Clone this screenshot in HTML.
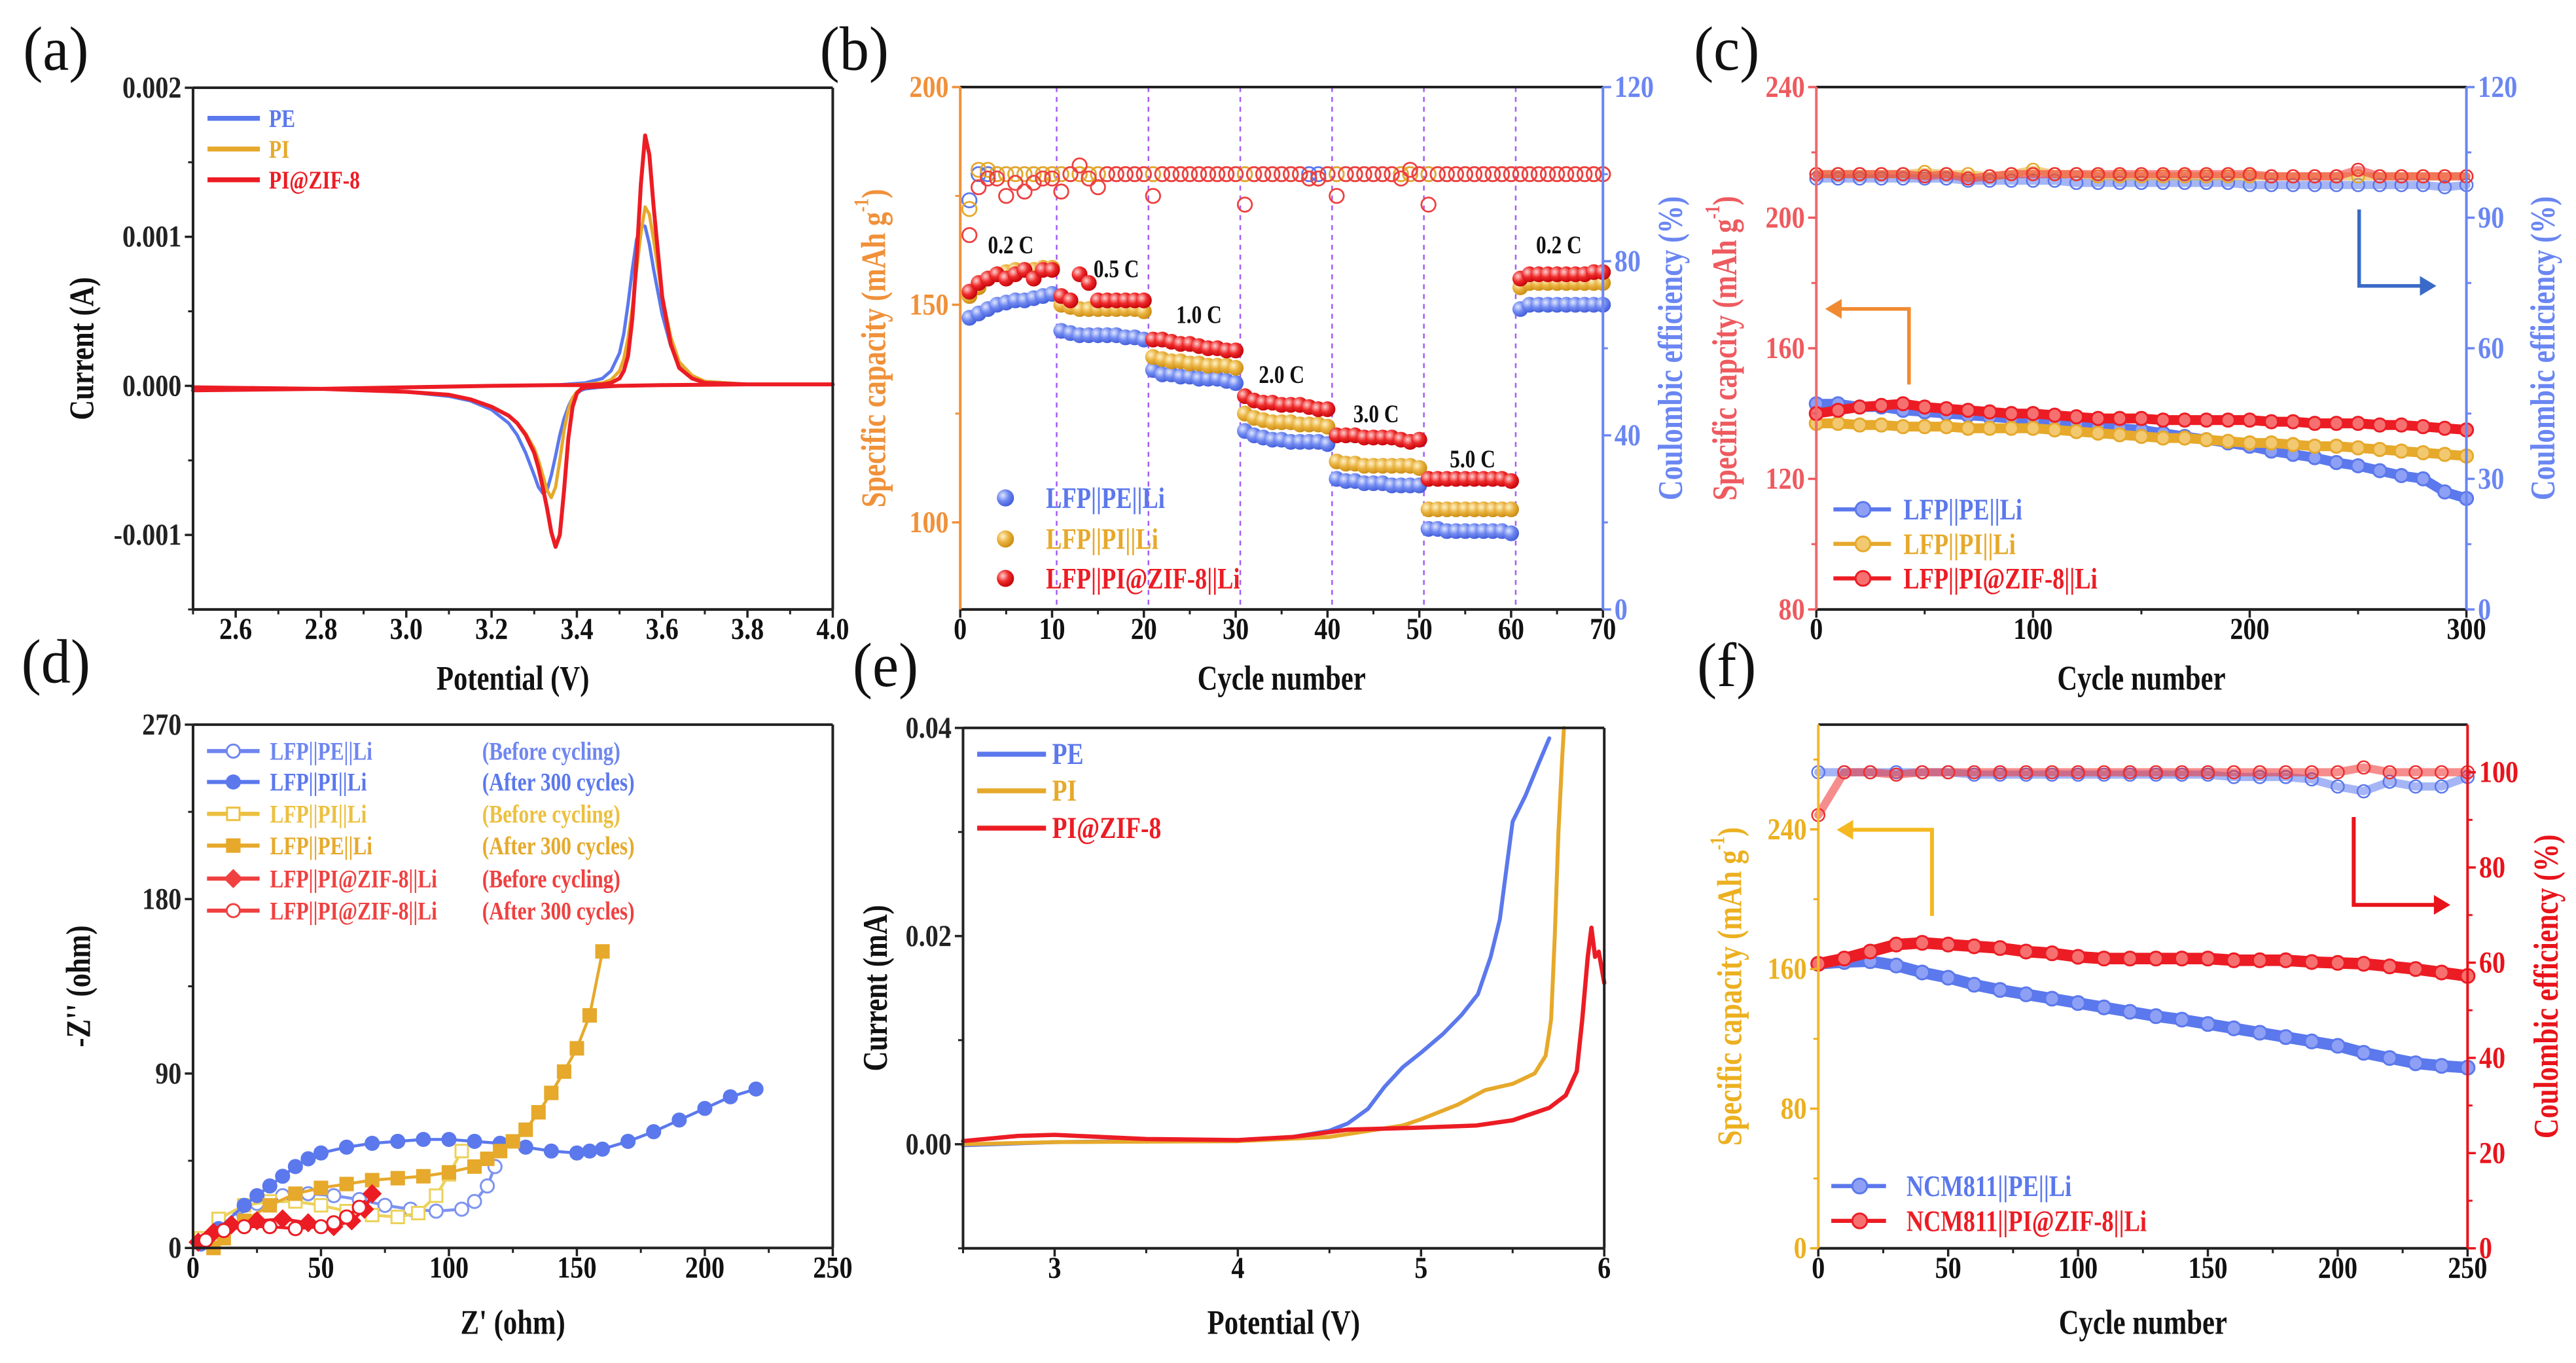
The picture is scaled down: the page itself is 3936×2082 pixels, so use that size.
<!DOCTYPE html>
<html><head><meta charset="utf-8">
<style>
html,body{margin:0;padding:0;background:#fff;}
svg{display:block;}
</style></head>
<body>
<svg id="fig" xmlns="http://www.w3.org/2000/svg" width="3936" height="2082" viewBox="0 0 1568 829.5" preserveAspectRatio="none">
<defs>
<radialGradient id="gBlue" cx="0.35" cy="0.35" r="0.7"><stop offset="0" stop-color="#dfe6ff"/><stop offset="0.5" stop-color="#6f88f0"/><stop offset="1" stop-color="#3f5ad8"/></radialGradient>
<radialGradient id="gYel" cx="0.35" cy="0.35" r="0.7"><stop offset="0" stop-color="#fff2c8"/><stop offset="0.5" stop-color="#e9b23e"/><stop offset="1" stop-color="#c98a10"/></radialGradient>
<radialGradient id="gRed" cx="0.35" cy="0.35" r="0.7"><stop offset="0" stop-color="#ffd0d0"/><stop offset="0.5" stop-color="#ee2a2a"/><stop offset="1" stop-color="#c00008"/></radialGradient>
</defs>
</svg>
<script>
// ---------- Panel (a) CV data (current in units of 0.001 A) ----------
const cvPotential = [2.5,2.8,3.0,3.2,3.35,3.42,3.46,3.48,3.5,3.51,3.52,3.53,3.54,3.55,3.56,3.57,3.58,3.6,3.62,3.64,3.67,3.7,3.8,4.0,
 3.8,3.6,3.5,3.45,3.42,3.41,3.4,3.39,3.38,3.37,3.36,3.35,3.34,3.33,3.32,3.31,3.3,3.28,3.26,3.24,3.2,3.15,3.1,3.0,2.8,2.5];
const cvPE = [-0.03,-0.02,-0.01,0,0.005,0.02,0.05,0.1,0.22,0.35,0.55,0.78,0.98,1.08,1.07,0.95,0.78,0.48,0.27,0.14,0.06,0.03,0.01,0.01,
 0.01,0.005,0,-0.01,-0.02,-0.03,-0.05,-0.08,-0.14,-0.22,-0.33,-0.47,-0.6,-0.7,-0.72,-0.68,-0.6,-0.45,-0.33,-0.25,-0.16,-0.1,-0.07,-0.04,-0.02,-0.01];
const cvPI = [-0.03,-0.02,-0.01,0,0.005,0.01,0.02,0.04,0.1,0.18,0.32,0.52,0.78,1.02,1.2,1.15,0.98,0.6,0.33,0.16,0.07,0.03,0.01,0.01,
 0.01,0.005,0,-0.005,-0.01,-0.02,-0.04,-0.08,-0.16,-0.3,-0.5,-0.68,-0.75,-0.7,-0.6,-0.5,-0.42,-0.32,-0.25,-0.2,-0.14,-0.09,-0.06,-0.04,-0.02,-0.01];
const cvZIF = [-0.03,-0.02,-0.01,0,0.005,0.005,0.01,0.02,0.05,0.1,0.2,0.45,0.85,1.35,1.68,1.55,1.2,0.6,0.28,0.12,0.05,0.02,0.01,0.01,
 0.01,0.005,0,-0.005,-0.01,-0.02,-0.05,-0.14,-0.35,-0.7,-1.0,-1.08,-0.98,-0.82,-0.68,-0.55,-0.45,-0.33,-0.25,-0.2,-0.14,-0.09,-0.06,-0.04,-0.02,-0.01];
const aXTicks = [2.6,2.8,3.0,3.2,3.4,3.6,3.8,4.0];
const aYTicks = [2,1,0,-1];
const aYLabels = ['0.002','0.001','0.000','-0.001'];

// ---------- Panel (b) rate capability ----------
const bCapPE = [147,148,149,150,150.5,151,151,151.5,152,152.5, 144,143.5,143,143,143,143,143,142.5,142.5,142,
 135,134,134,133.5,133.5,133,133,133,132.5,132, 121,120,119.5,119,119,118.5,118.5,118.5,118.5,118,
 110,109.5,109.5,109,109,109,108.5,108.5,108.5,108.5, 98.5,98.5,98,98,98,98,98,98,98,97.5,
 149,150,150,150,150,150,150,150,150,150];
const bCapPI = [152,154,156,157,157.5,158,158,158,158.5,158.5, 150,149.5,149,149,149,149,149,149,149,148.5,
 138,137.5,137,137,136.5,136.5,136,136,136,135.5, 125,124,123.5,123,123,123,122.5,122.5,122.5,122,
 114,113.5,113.5,113,113,113,113,113,113,112.5, 103,103,103,103,103,103,103,103,103,103,
 154,155,155,155,155,155,155,155,155,155];
const bCapZIF = [153,155,156,157,156,157,158,156,158,158, 152,151,157,155,151,151,151,151,151,151,
 142,142,141.5,141,141,140.5,140,140,139.5,139.5, 129,128,127.5,127.5,127,127,127,126.5,126,126,
 120,120,120,119.5,119.5,119.5,119.5,119,118.5,119, 110,110,110,110,110,110,110,110,110,109.5,
 156,157,157,157,157,157,157,157,157.5,157.5];
const bCEPE = [94,100,100,100,100,100,100,100,100,100, 100,100,100,100,100,100,100,100,100,100,
 100,100,100,100,100,100,100,100,100,100, 100,100,100,100,100,100,100,100,100,100,
 100,100,100,100,100,100,100,100,100,100, 100,100,100,100,100,100,100,100,100,100,
 100,100,100,100,100,100,100,100,100,100];
const bCEPI = [92,101,101,100,100,100,100,100,100,100, 100,100,100,100,100,100,100,100,100,100,
 100,100,100,100,100,100,100,100,100,100, 100,100,100,100,100,100,100,99,99,100,
 100,100,100,100,100,100,100,100,100,100, 100,100,100,100,100,100,100,100,100,100,
 100,100,100,100,100,100,100,100,100,100];
const bCEZIF = [86,97,99,99,95,98,96,98,99,99, 96,100,102,99,97,100,100,100,100,100,
 95,100,100,100,100,100,100,100,100,100, 93,100,100,100,100,100,100,99,99,100,
 95,100,100,100,100,100,100,99,101,100, 93,100,100,100,100,100,100,100,100,100,
 100,100,100,100,100,100,100,100,100,100];
const bRateLabels = ['0.2 C','0.5 C','1.0 C','2.0 C','3.0 C','5.0 C','0.2 C'];
const bRateCycle = [5.5,17,26,35,45.3,55.8,65.2];
const bRateCap = [163.8,158.3,147.8,134,125,114.6,163.8];
const bSteps = [10.5,20.5,30.5,40.5,50.5,60.5];

// ---------- Panel (c) long cycling LFP ----------
const cCycles = [0,10,20,30,40,50,60,70,80,90,100,110,120,130,140,150,160,170,180,190,200,210,220,230,240,250,260,270,280,290,300];
const cCapZIF = [140,141,142,142.5,143,142,141.5,141,140.5,140,140,139.5,139,138.5,138.5,138.5,138,138,138,138,138,137.5,137.5,137,137,137,136.5,136.5,136,135.5,135];
const cCapPI = [137,137,136.5,136.5,136,136,136,135.5,135.5,135.5,135.5,135,134.5,134,133.5,133,132.5,132.5,132,131.5,131,131,130.5,130,130,129.5,129,128.5,128,127.5,127];
const cCapPE = [143,143,142,142,141,140.5,140,139.5,139,138.5,138,137.5,137,136,135.5,135,134,133,132,131,130,128.5,127.5,126.5,125,124,122.5,121,120,116,114];
const cCEPE = [99,99,99,99,99,99,99,98.5,98.5,98.5,98.5,98.5,98,98,98,98,98,98,98,98,97.5,97.5,97.5,97.5,97.5,97.5,97.5,97.5,97.5,97,97.5];
const cCEPI = [100,100,100,100,100,100.5,100,100,99.5,100,101,100,100,99.5,99.5,99.5,99.5,99.5,99.5,99.5,99.5,99.5,99.5,99.5,99.5,99.5,99.5,99.5,99.5,99.5,99.5];
const cCEZIF = [100,100,100,100,100,99.5,100,99,99.5,100,100,100,100,100,100,100,100,100,100,100,100,99.5,99.5,99.5,99.5,101,99.5,99.5,99.5,99.5,99.5];

// ---------- Panel (d) EIS ----------
const dPEBeforeX = [5,15,25,35,45,55,65,75,85,95,105,110,115,118];
const dPEBeforeY = [3,15,23,27,28,27,25,22,20,19,20,24,32,42];
const dPIAfterX = [3,10,20,25,30,35,40,45,50,60,70,80,90,100,110,120,130,140,150,155,160,170,180,190,200,210,220];
const dPIAfterY = [2,10,22,27,32,37,42,46,49,52,54,55,56,56,55,54,52,50,49,50,51,55,60,66,72,78,82];
const dPIBeforeX = [3,10,20,30,40,50,60,70,80,88,95,100,105];
const dPIBeforeY = [5,15,22,24,24,22,19,17,16,18,27,38,50];
const dPEAfterX = [8,12,20,30,40,50,60,70,80,90,100,110,115,120,125,130,135,140,145,150,155,160];
const dPEAfterY = [0,5,14,22,28,31,33,35,36,37,39,42,46,50,55,61,70,80,91,103,120,153];
const dZIFBeforeX = [2,8,15,25,35,45,55,62,67,70];
const dZIFBeforeY = [3,8,12,14,15,13,11,14,20,28];
const dZIFAfterX = [5,12,20,30,40,50,55,60,65];
const dZIFAfterY = [4,9,11,11,10,11,13,16,21];

// ---------- Panel (e) LSV ----------
const ePEV = [2.5,3,3.5,4,4.3,4.5,4.6,4.71,4.8,4.9,5.0,5.12,5.22,5.31,5.38,5.43,5.47,5.5,5.57,5.64,5.7];
const ePEI = [-0.0001,0.0002,0.0003,0.0003,0.0007,0.0013,0.002,0.0034,0.0055,0.0074,0.0088,0.0106,0.0124,0.0144,0.018,0.0216,0.027,0.031,0.0335,0.0365,0.039];
const ePIV = [2.5,3,4,4.5,4.9,5.0,5.2,5.35,5.5,5.62,5.68,5.71,5.73,5.75,5.77,5.78];
const ePII = [0,0.0002,0.0003,0.0007,0.0018,0.0024,0.0038,0.0052,0.0058,0.0068,0.0085,0.012,0.02,0.03,0.037,0.04];
const eZIFV = [2.5,2.8,3,3.5,4,4.3,4.6,5,5.3,5.5,5.7,5.79,5.85,5.88,5.91,5.93,5.95,5.97,6];
const eZIFI = [0.0003,0.0008,0.0009,0.0005,0.0004,0.0007,0.0014,0.0016,0.0018,0.0023,0.0035,0.0047,0.007,0.012,0.018,0.0208,0.018,0.0185,0.0155];

// ---------- Panel (f) NCM811 cycling ----------
const fCycles = [0,10,20,30,40,50,60,70,80,90,100,110,120,130,140,150,160,170,180,190,200,210,220,230,240,250];
const fCapZIF = [163,166,170,174,175,174,173,172,170,169,167,166,166,166,166,166,165,165,165,164,163.5,163,161.5,160,158,156];
const fCapPE = [163,164,164.5,162,158,155,151,148,145.5,143,140.5,138,135.5,133,131,128.5,126,123.5,121,118.5,116,112,109,106,104.5,103.5];
const fCEPE = [100,100,100,100,100,100,99.5,99.5,99.5,99.5,99.5,99.5,99.5,99.5,99.5,99.5,99,99,99,98.5,97,96,98,97,97,99];
const fCEZIF = [91,100,100,99.5,100,100,100,100,100,100,100,100,100,100,100,100,100,100,100,100,100,101,100,100,100,100];

// ---------------- drawing ----------------
const NS='http://www.w3.org/2000/svg';
const svg=document.getElementById('fig');
const FONT='"Liberation Serif","DejaVu Serif",serif';
const TICK=16, TITLE=17;
function mk(tag,attrs,parent){const e=document.createElementNS(NS,tag);for(const k in attrs)e.setAttribute(k,attrs[k]);(parent||svg).appendChild(e);return e;}
function txt(str,x,y,size,fill,anchor,rot,sy,weight,parent){
  const t=mk('text',{'font-size':size,'fill':fill,'text-anchor':anchor,'dominant-baseline':'central','font-family':FONT,'font-weight':weight||'bold',
    transform:'translate('+x+','+y+') rotate('+(rot||0)+') scale(1,'+sy+')'},parent);
  t.textContent=str;return t;}
const BLUE='#5b78ec',YEL='#e6a92b',RED='#ec1c24';

function scales(p){
  p.sx=v=>p.l+(v-p.x0)/(p.x1-p.x0)*(p.r-p.l);
  p.sy=v=>p.b-(v-p.y0)/(p.y1-p.y0)*(p.b-p.t);
  if(p.z0!==undefined)p.sz=v=>p.b-(v-p.z0)/(p.z1-p.z0)*(p.b-p.t);
}
function frame(p,g,lc,rc){
  const b=mk('line',{x1:p.l,y1:p.b,x2:p.r,y2:p.b,stroke:'#222','stroke-width':1.6},g);
  
  
  const t=mk('line',{x1:p.l,y1:p.t,x2:p.r,y2:p.t,stroke:'#222','stroke-width':1.6},g);
  
  
  const l=mk('line',{x1:p.l,y1:p.t,x2:p.l,y2:p.b,stroke:lc,'stroke-width':1.6},g);
  
  
  const r=mk('line',{x1:p.r,y1:p.t,x2:p.r,y2:p.b,stroke:rc,'stroke-width':1.6},g);
  
  
}
function xTicks(p,g,vals,labels,minors){
  vals.forEach((v,i)=>{const x=p.sx(v);
    const tk=mk('line',{x1:x,y1:p.b,x2:x,y2:p.b+5,stroke:'#222','stroke-width':1.4},g);
    
    
    const lb=txt(labels[i],x,p.b+12,TICK,'#111','middle',0,1.15,'bold',g);
    
    });
  minors.forEach(v=>{const x=p.sx(v);
    const tk=mk('line',{x1:x,y1:p.b,x2:x,y2:p.b+3,stroke:'#222','stroke-width':1.2},g);
    
    });
}
function yTicks(p,g,fn,vals,labels,minors,side,color){
  const x0=side==='left'?p.l:p.r, d=side==='left'?-1:1;
  vals.forEach((v,i)=>{const y=fn(v);
    const tk=mk('line',{x1:x0,y1:y,x2:x0+d*5,y2:y,stroke:color,'stroke-width':1.4},g);
    
    
    const lb=txt(labels[i],x0+d*7,y,TICK,color,side==='left'?'end':'start',0,1.15,'bold',g);
    
    });
  minors.forEach(v=>{const y=fn(v);
    const tk=mk('line',{x1:x0,y1:y,x2:x0+d*3,y2:y,stroke:color,'stroke-width':1.2},g);
    
    });
}
function polyline(xs,ys,fx,fy,color,w,g,name){
  const pts=xs.map((x,i)=>fx(x).toFixed(2)+','+fy(ys[i]).toFixed(2)).join(' ');
  const pl=mk('polyline',{points:pts,fill:'none',stroke:color,'stroke-width':w,'stroke-linejoin':'round','stroke-linecap':'round'},g);
  
  
  return pl;
}
function panelLabel(s,x,y){
  const t=txt(s,x,y,36,'#111','middle',0,1.05,'normal');
  
  
}
function capTitle(x,y,color,g,name){
  const t=mk('text',{'font-size':TITLE,'fill':color,'text-anchor':'middle','dominant-baseline':'central','font-family':FONT,'font-weight':'bold',
    transform:'translate('+x+','+y+') rotate(-90) scale(1,1.25)'},g);
  t.appendChild(document.createTextNode('Specific capacity (mAh g'));
  const s=mk('tspan',{'font-size':10,dy:-6},t); s.textContent='-1';
  const s2=mk('tspan',{dy:6},t); s2.textContent=')';
  
  
}
function seq(a,b,s){const r=[];for(let v=a;v<=b+1e-9;v+=s)r.push(+v.toFixed(4));return r;}

// ===== Panel a =====
(function(){
  const g=mk('g',{});  
  const p={l:117.5,r:506.9,t:53.4,b:370.9,x0:2.5,x1:4.0,y0:-1.5,y1:2}; scales(p);
  polyline(cvPotential,cvPE,p.sx,p.sy,BLUE,2,g,'series-pe');
  polyline(cvPotential,cvPI,p.sx,p.sy,YEL,2,g,'series-pi');
  polyline(cvPotential,cvZIF,p.sx,p.sy,RED,2.4,g,'series-pi-zif8');
  frame(p,g,'#222','#222');
  xTicks(p,g,aXTicks,aXTicks.map(v=>v.toFixed(1)),seq(2.5,3.9,0.2));
  yTicks(p,g,p.sy,aYTicks,aYLabels,[1.5,0.5,-0.5,-1.5],'left','#222');
  const xt=txt('Potential (V)',(p.l+p.r)/2,413,TITLE,'#111','middle',0,1.25,'bold',g);
   
  const yt=txt('Current (A)',50,(p.t+p.b)/2,TITLE,'#111','middle',-90,1.25,'bold',g);
   
  [['PE',BLUE,72],['PI',YEL,90.7],['PI@ZIF-8',RED,109.4]].forEach(e=>{
    const ln=mk('line',{x1:126.3,y1:e[2],x2:158.2,y2:e[2],stroke:e[1],'stroke-width':3},g);
     
    const t=txt(e[0],163.7,e[2],12.5,e[1],'start',0,1.25,'bold',g);
     });
})();

// ===== Panel b =====
(function(){
  const g=mk('g',{});  
  const p={l:584.5,r:975.7,t:53,b:370.9,x0:0,x1:70,y0:80,y1:200,z0:0,z1:120}; scales(p);
  bSteps.forEach(c=>{const l=mk('line',{x1:p.sx(c),y1:p.t,x2:p.sx(c),y2:p.b,stroke:'#a55cf5','stroke-width':1,'stroke-dasharray':'3,3'},g);
     });
  const ce=[[bCEPE,BLUE],[bCEPI,YEL],[bCEZIF,'#ee4040']];
  ce.forEach(s=>{s[0].forEach((v,i)=>{const c=mk('circle',{cx:p.sx(i+1),cy:p.sz(v),r:4.3,fill:'none',stroke:s[1],'stroke-width':1.1},g);
     });});
  const caps=[[bCapPE,'url(#gBlue)'],[bCapPI,'url(#gYel)'],[bCapZIF,'url(#gRed)']];
  caps.forEach(s=>{s[0].forEach((v,i)=>{const c=mk('circle',{cx:p.sx(i+1),cy:p.sy(v),r:4.8,fill:s[1]},g);
     });});
  bRateLabels.forEach((s,i)=>{const t=txt(s,p.sx(bRateCycle[i]),p.sy(bRateCap[i]),12.5,'#111','middle',0,1.25,'bold',g);
     });
  frame(p,g,'#f0913a','#6a86f2');
  xTicks(p,g,seq(0,70,10),seq(0,70,10).map(String),seq(5,65,10));
  yTicks(p,g,p.sy,[100,150,200],['100','150','200'],[125,175],'left','#f0913a');
  yTicks(p,g,p.sz,[0,40,80,120],['0','40','80','120'],[20,60,100],'right','#6a86f2');
  const xt=txt('Cycle number',(p.l+p.r)/2,413,TITLE,'#111','middle',0,1.25,'bold',g);
   
  capTitle(532,(p.t+p.b)/2,'#f0913a',g,'left-y-axis-title');
  const yr=txt('Coulombic efficiency (%)',1017,(p.t+p.b)/2,TITLE,'#6a86f2','middle',-90,1.25,'bold',g);
   
  [['LFP||PE||Li',BLUE,'url(#gBlue)',303],['LFP||PI||Li',YEL,'url(#gYel)',328],['LFP||PI@ZIF-8||Li',RED,'url(#gRed)',352]].forEach(e=>{
    const c=mk('circle',{cx:612,cy:e[3],r:5.2,fill:e[2]},g);
     
    const t=txt(e[0],636.7,e[3],14.5,e[1],'start',0,1.25,'bold',g);
     });
})();

// ===== Panel c =====
(function(){
  const g=mk('g',{});  
  const p={l:1105.6,r:1501.3,t:53,b:370.9,x0:0,x1:300,y0:80,y1:240,z0:0,z1:120}; scales(p);
  [[cCEPE,BLUE],[cCEPI,YEL],[cCEZIF,'#ee3030']].forEach(s=>{
    polyline(cCycles,s[0],p.sx,p.sz,s[1],5,g,'ce-band').setAttribute('stroke-opacity','0.55');
    s[0].forEach((v,i)=>{const c=mk('circle',{cx:p.sx(cCycles[i]),cy:p.sz(v),r:3.8,fill:'none',stroke:s[1],'stroke-width':1},g);
       });});
  [[cCapPE,BLUE,'#8ea0f5'],[cCapPI,YEL,'#f2c870'],[cCapZIF,RED,'#f67070']].forEach(s=>{
    polyline(cCycles,s[0],p.sx,p.sy,s[1],6,g,'capacity-band');
    s[0].forEach((v,i)=>{const c=mk('circle',{cx:p.sx(cCycles[i]),cy:p.sy(v),r:4,fill:s[2],stroke:s[1],'stroke-width':1.2},g);
       });});
  const a1=mk('path',{d:'M1162,234 V188 H1118',fill:'none',stroke:'#f08a30','stroke-width':2.2},g);
   
  const h1=mk('path',{d:'M1111,188 L1121,182 L1121,194 Z',fill:'#f08a30'},g);
   
  const a2=mk('path',{d:'M1436,127.5 V174 H1476',fill:'none',stroke:'#3a6ac8','stroke-width':2.2},g);
   
  const h2=mk('path',{d:'M1483,174 L1473,168 L1473,180 Z',fill:'#3a6ac8'},g);
   
  frame(p,g,'#ee6a6e','#6a86f2');
  xTicks(p,g,[0,100,200,300],['0','100','200','300'],[50,150,250]);
  yTicks(p,g,p.sy,[80,120,160,200,240],['80','120','160','200','240'],[100,140,180,220],'left','#ee5a5f');
  yTicks(p,g,p.sz,[0,30,60,90,120],['0','30','60','90','120'],[15,45,75,105],'right','#6a86f2');
  const xt=txt('Cycle number',(p.l+p.r)/2,413,TITLE,'#111','middle',0,1.25,'bold',g);
   
  const tl=mk('text',{'font-size':TITLE,'fill':'#ee5a5f','text-anchor':'middle','dominant-baseline':'central','font-family':FONT,'font-weight':'bold',
    transform:'translate(1050,'+((p.t+p.b)/2)+') rotate(-90) scale(1,1.25)'},g);
  tl.appendChild(document.createTextNode('Specific capcity (mAh g'));
  const ss=mk('tspan',{'font-size':10,dy:-6},tl); ss.textContent='-1';
  const ss2=mk('tspan',{dy:6},tl); ss2.textContent=')';
   
  const yr=txt('Coulombic efficiency (%)',1548,(p.t+p.b)/2,TITLE,'#6a86f2','middle',-90,1.25,'bold',g);
   
  [['LFP||PE||Li',BLUE,'#8ea0f5',310],['LFP||PI||Li',YEL,'#f2c870',331],['LFP||PI@ZIF-8||Li',RED,'#f67070',352]].forEach(e=>{
    const ln=mk('line',{x1:1116,y1:e[3],x2:1151,y2:e[3],stroke:e[1],'stroke-width':2.5},g);
     
    const c=mk('circle',{cx:1134,cy:e[3],r:4.5,fill:e[2],stroke:e[1],'stroke-width':1.2},g);
     
    const t=txt(e[0],1158.6,e[3],14.5,e[1],'start',0,1.25,'bold',g);
     });
})();

// ===== Panel d =====
(function(){
  const g=mk('g',{});  
  const p={l:117.5,r:506.9,t:441,b:759.5,x0:0,x1:250,y0:0,y1:270}; scales(p);
  function marker(type,x,y,color,filled){
    let m;
    if(type==='c') m=mk('circle',{cx:x,cy:y,r:4,fill:filled?color:'#fff',stroke:color,'stroke-width':1.2},g);
    else if(type==='s') m=mk('rect',{x:x-3.8,y:y-3.8,width:7.6,height:7.6,fill:filled?color:'#fff',stroke:color,'stroke-width':1.2},g);
    else m=mk('path',{d:'M'+x+','+(y-5)+' L'+(x+5)+','+y+' L'+x+','+(y+5)+' L'+(x-5)+','+y+' Z',fill:filled?color:'#fff',stroke:color,'stroke-width':1.2},g);
    
    
  }
  const series=[[dPEBeforeX,dPEBeforeY,'#7d93f0','c',false],[dPIBeforeX,dPIBeforeY,'#ecd25a','s',false],
    [dPIAfterX,dPIAfterY,BLUE,'c',true],[dPEAfterX,dPEAfterY,YEL,'s',true],
    [dZIFBeforeX,dZIFBeforeY,RED,'d',true],[dZIFAfterX,dZIFAfterY,RED,'c',false]];
  series.forEach(s=>{polyline(s[0],s[1],p.sx,p.sy,s[2],1.8,g,'eis-series');
    s[0].forEach((x,i)=>marker(s[3],p.sx(x),p.sy(s[1][i]),s[2],s[4]));});
  frame(p,g,'#222','#222');
  xTicks(p,g,seq(0,250,50),seq(0,250,50).map(String),seq(25,225,50));
  yTicks(p,g,p.sy,[0,90,180,270],['0','90','180','270'],[45,135,225],'left','#222');
  const xt=txt("Z' (ohm)",(p.l+p.r)/2,805,TITLE,'#111','middle',0,1.25,'bold',g);
   
  const yt=txt("-Z'' (ohm)",48,(p.t+p.b)/2,TITLE,'#111','middle',-90,1.25,'bold',g);
   
  const leg=[['LFP||PE||Li','(Before cycling)','#6f86f0','c',false,457.1],['LFP||PI||Li','(After 300 cycles)',BLUE,'c',true,475.9],
    ['LFP||PI||Li','(Before cycling)','#ecc040','s',false,495.3],['LFP||PE||Li','(After 300 cycles)',YEL,'s',true,514.6],
    ['LFP||PI@ZIF-8||Li','(Before cycling)','#f04040','d',true,534.7],['LFP||PI@ZIF-8||Li','(After 300 cycles)','#f04040','c',false,554.2]];
  leg.forEach(e=>{
    const ln=mk('line',{x1:126,y1:e[5],x2:158,y2:e[5],stroke:e[2],'stroke-width':2.5},g);
     
    marker(e[3],142,e[5],e[2],e[4]);
    const t=txt(e[0],164.3,e[5],12.5,e[2],'start',0,1.25,'bold',g);
     
    const t2=txt(e[1],293.5,e[5],12.5,e[2],'start',0,1.25,'bold',g);
     });
})();

// ===== Panel e =====
(function(){
  const g=mk('g',{});  
  const p={l:586.2,r:976.5,t:443,b:759.7,x0:2.5,x1:6,y0:-0.01,y1:0.04}; scales(p);
  polyline(ePEV,ePEI,p.sx,p.sy,BLUE,2.4,g,'series-pe');
  polyline(ePIV,ePII,p.sx,p.sy,YEL,2.4,g,'series-pi');
  polyline(eZIFV,eZIFI,p.sx,p.sy,RED,2.6,g,'series-pi-zif8');
  frame(p,g,'#222','#222');
  xTicks(p,g,[3,4,5,6],['3','4','5','6'],[2.5,3.5,4.5,5.5]);
  yTicks(p,g,p.sy,[0,0.02,0.04],['0.00','0.02','0.04'],[-0.01,0.01,0.03],'left','#222');
  const xt=txt('Potential (V)',(p.l+p.r)/2,805,TITLE,'#111','middle',0,1.25,'bold',g);
   
  const yt=txt('Current (mA)',533,(p.t+p.b)/2,TITLE,'#111','middle',-90,1.25,'bold',g);
   
  [['PE',BLUE,459],['PI',YEL,481.3],['PI@ZIF-8',RED,504]].forEach(e=>{
    const ln=mk('line',{x1:594.8,y1:e[2],x2:636.7,y2:e[2],stroke:e[1],'stroke-width':3},g);
     
    const t=txt(e[0],640.4,e[2],15,e[1],'start',0,1.25,'bold',g);
     });
})();

// ===== Panel f =====
(function(){
  const g=mk('g',{});  
  const p={l:1106.8,r:1502,t:441,b:759.7,x0:0,x1:250,y0:0,y1:300,z0:0,z1:110}; scales(p);
  [[fCEPE,BLUE],[fCEZIF,'#ee3030']].forEach(s=>{
    polyline(fCycles,s[0],p.sx,p.sz,s[1],5,g,'ce-band').setAttribute('stroke-opacity','0.55');
    s[0].forEach((v,i)=>{const c=mk('circle',{cx:p.sx(fCycles[i]),cy:p.sz(v),r:3.8,fill:'none',stroke:s[1],'stroke-width':1},g);
       });});
  [[fCapPE,BLUE,'#8ea0f5'],[fCapZIF,RED,'#f67070']].forEach(s=>{
    polyline(fCycles,s[0],p.sx,p.sy,s[1],7,g,'capacity-band');
    s[0].forEach((v,i)=>{const c=mk('circle',{cx:p.sx(fCycles[i]),cy:p.sy(v),r:4.2,fill:s[2],stroke:s[1],'stroke-width':1.2},g);
       });});
  const a1=mk('path',{d:'M1176,557.4 V505 H1125',fill:'none',stroke:'#f5b820','stroke-width':2.4},g);
   
  const h1=mk('path',{d:'M1118,505 L1128,499 L1128,511 Z',fill:'#f5b820'},g);
   
  const a2=mk('path',{d:'M1432.7,497.2 V550.7 H1484',fill:'none',stroke:'#e8141b','stroke-width':2.4},g);
   
  const h2=mk('path',{d:'M1491.5,550.7 L1481.5,544.7 L1481.5,556.7 Z',fill:'#e8141b'},g);
   
  frame(p,g,'#f5b82e','#e8141b');
  xTicks(p,g,seq(0,250,50),seq(0,250,50).map(String),seq(25,225,50));
  yTicks(p,g,p.sy,[0,80,160,240],['0','80','160','240'],[40,120,200,280],'left','#ecb020');
  yTicks(p,g,p.sz,[0,20,40,60,80,100],['0','20','40','60','80','100'],[10,30,50,70,90],'right','#e8141b');
  const xt=txt('Cycle number',(p.l+p.r)/2,805,TITLE,'#111','middle',0,1.25,'bold',g);
   
  capTitle(1053,(p.t+p.b)/2,'#ecb020',g,'left-y-axis-title');
  const yr=txt('Coulombic efficiency (%)',1550,(p.t+p.b)/2,TITLE,'#e8141b','middle',-90,1.25,'bold',g);
   
  [['NCM811||PE||Li',BLUE,'#8ea0f5',721.8],['NCM811||PI@ZIF-8||Li',RED,'#f67070',743]].forEach(e=>{
    const ln=mk('line',{x1:1114.7,y1:e[3],x2:1148,y2:e[3],stroke:e[1],'stroke-width':2.5},g);
     
    const c=mk('circle',{cx:1132,cy:e[3],r:4.5,fill:e[2],stroke:e[1],'stroke-width':1.2},g);
     
    const t=txt(e[0],1160.4,e[3],14.5,e[1],'start',0,1.25,'bold',g);
     });
})();

panelLabel('(a)',34,30);
panelLabel('(b)',520,30);
panelLabel('(c)',1051,30);
panelLabel('(d)',34,403);
panelLabel('(e)',539,405);
panelLabel('(f)',1051,405);
</script>
</body></html>
